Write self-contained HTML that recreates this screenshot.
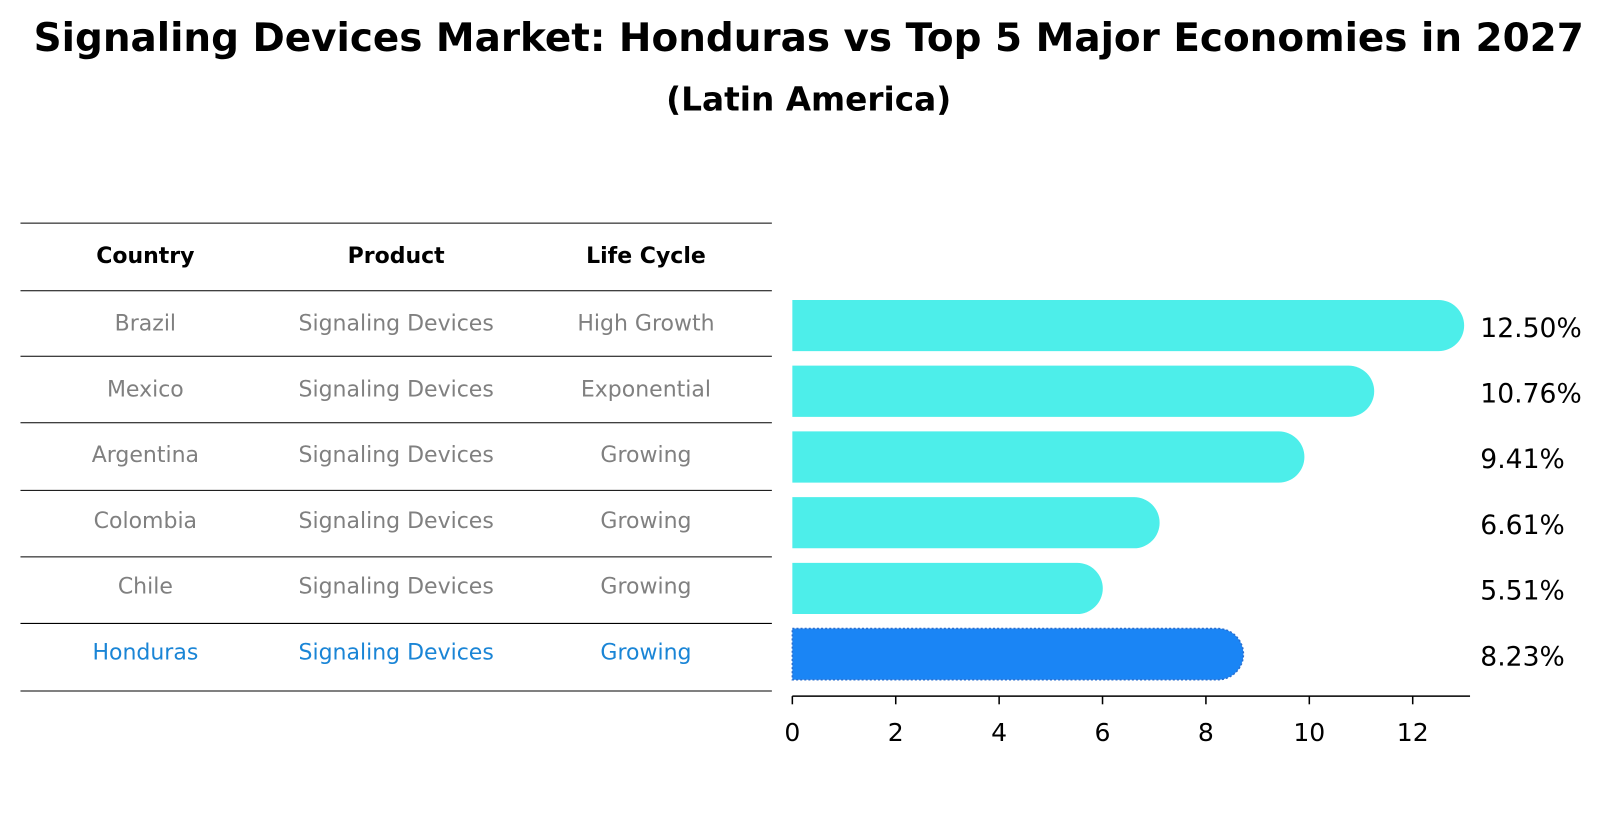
<!DOCTYPE html>
<html><head><meta charset="utf-8"><style>
body{margin:0;background:#fff;font-family:"DejaVu Sans","Liberation Sans",sans-serif}
</style></head><body>
<svg width="1604" height="823" xmlns="http://www.w3.org/2000/svg" font-family="DejaVu Sans, Liberation Sans, sans-serif">
<g transform="scale(1.0237)">
<text x="790" y="50" text-anchor="middle" font-size="38" font-weight="bold">Signaling Devices Market: Honduras vs Top 5 Major Economies in 2027</text>
<text x="790" y="108" text-anchor="middle" font-size="32" font-weight="bold">(Latin America)</text>
<g id="table"></g>
<g id="bars"></g>
</g>
</svg>
<script>
const countries=["Brazil","Mexico","Argentina","Colombia","Chile","Honduras"];
const products=["Signaling Devices","Signaling Devices","Signaling Devices","Signaling Devices","Signaling Devices","Signaling Devices"];
const lifeCycles=["High Growth","Exponential","Growing","Growing","Growing","Growing"];
const values=[12.50,10.76,9.41,6.61,5.51,8.23];
const ticks=[0,2,4,6,8,10,12];
const NS="http://www.w3.org/2000/svg";
function mk(t,a,p){const e=document.createElementNS(NS,t);for(const k in a)e.setAttribute(k,a[k]);p.appendChild(e);return e;}
const tb=document.getElementById('table'),bg=document.getElementById('bars');
const lines=[218,284,348,413,479,544,609,675];
lines.forEach((y,i)=>{const l=mk('line',{x1:20,x2:754,y1:y,y2:y,stroke:'#000','stroke-width':1},tb);

});
const cx=[142,387,631];
["Country","Product","Life Cycle"].forEach((h,i)=>{const t=mk('text',{x:cx[i],y:257,'text-anchor':'middle','font-size':21.5,'font-weight':'bold'},tb);t.textContent=h;

});
const X=v=>774+v*50.5;
const Y=i=>318+i*64.2;
countries.forEach((c,i)=>{
 const col=c==="Honduras"?"#1a85d6":"#808080";
 [c,products[i],lifeCycles[i]].forEach((s,j)=>{const t=mk('text',{x:cx[j],y:Y(i)+5,'text-anchor':'middle','font-size':21.5,fill:col},tb);t.textContent=s;
 
 });
 const fill=c==="Honduras"?"#1a85f5":"#4deeea";
 const y0=Y(i)-25,x1=X(values[i]);
 const p=mk('path',{d:`M774 ${y0} H${x1} A25 25 0 0 1 ${x1} ${y0+50} H774 Z`,fill:fill},bg);
 if(c==="Honduras"){p.setAttribute('stroke','#2a6fd0');p.setAttribute('stroke-dasharray','2 2');p.setAttribute('stroke-width','1.5');}
 
 
 const t=mk('text',{x:1446,y:Y(i)+11,'font-size':26},bg);t.textContent=values[i].toFixed(2)+'%';
 
 
});
const ax=mk('line',{x1:774,x2:1436,y1:680,y2:680,stroke:'#000','stroke-width':1.5},bg);


ticks.forEach(v=>{const l=mk('line',{x1:X(v),x2:X(v),y1:680,y2:688,stroke:'#000','stroke-width':1.5},bg);


const t=mk('text',{x:X(v),y:724,'text-anchor':'middle','font-size':24.5},bg);t.textContent=v;

});
</script>
</body></html>
